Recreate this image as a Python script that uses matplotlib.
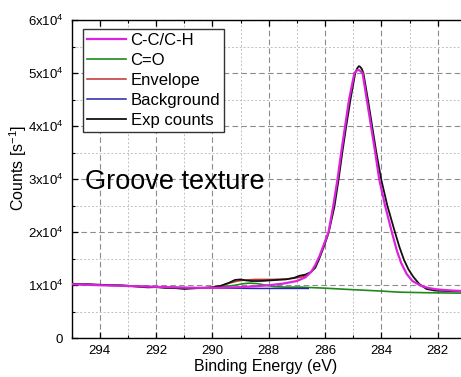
import matplotlib
matplotlib.use("Agg")
import matplotlib.pyplot as plt
from matplotlib.ticker import MultipleLocator, FuncFormatter

plt.rcParams["font.family"] = ["Liberation Sans", "DejaVu Sans"]
plt.rcParams["mathtext.fontset"] = "custom"
plt.rcParams["mathtext.rm"] = "Liberation Sans"
plt.rcParams["mathtext.default"] = "regular"

# C-C/C-H component (with background), counts in 1e4
cc_energy = [295.0, 294.0, 293.0, 292.0, 291.0, 290.0, 289.5, 289.0, 288.5, 288.0,
             287.5, 287.0, 286.7, 286.5, 286.35, 286.2, 286.05, 285.88, 285.71, 285.56,
             285.43, 285.29, 285.15, 284.96, 284.89, 284.82, 284.75, 284.67, 284.52, 284.37,
             284.22, 284.08, 283.87, 283.63, 283.45, 283.3, 283.1, 282.9, 282.6, 282.3,
             282.0, 281.5, 281.0]
cc_counts = [1.02, 1.00, 0.985, 0.97, 0.955, 0.95, 0.955, 0.965, 0.98, 1.00,
             1.03, 1.08, 1.15, 1.25, 1.38, 1.55, 1.76, 2.00, 2.50, 3.00,
             3.50, 4.00, 4.50, 5.00, 5.04, 5.06, 5.04, 5.00, 4.50, 4.00,
             3.50, 3.00, 2.50, 2.00, 1.65, 1.42, 1.21, 1.08, 0.99, 0.945,
             0.92, 0.90, 0.89]

# C=O component (with background)
co_energy = [295.0, 294.0, 293.0, 292.0, 291.0, 290.5, 290.0, 289.6, 289.2, 288.9,
             288.66, 288.4, 288.1, 287.8, 287.4, 286.9, 286.0, 285.14, 284.0, 283.37,
             282.5, 281.0]
co_counts = [1.02, 1.005, 0.99, 0.97, 0.955, 0.95, 0.955, 0.97, 1.00, 1.03,
             1.04, 1.03, 1.00, 0.975, 0.965, 0.965, 0.945, 0.92, 0.89, 0.87,
             0.86, 0.85]

# envelope
env_energy = [290.3, 290.0, 289.7, 289.4, 289.1, 288.8, 288.5, 288.2, 287.9, 287.6,
              287.3, 287.0, 286.8, 286.6]
env_counts = [0.95, 0.96, 0.99, 1.04, 1.08, 1.10, 1.11, 1.11, 1.11, 1.115,
              1.12, 1.14, 1.16, 1.20]

# background
bg_energy = [290.3, 289.5, 288.5, 287.5, 286.6]
bg_counts = [0.95, 0.945, 0.94, 0.94, 0.94]

# experimental counts
exp_energy = [295.0, 294.7, 294.4, 294.0, 293.6, 293.3, 293.0, 292.6, 292.3, 292.0,
              291.7, 291.3, 291.0, 290.7, 290.4, 290.0, 289.7, 289.4, 289.2, 289.0,
              288.8, 288.6, 288.3, 288.0, 287.7, 287.4, 287.1, 286.9, 286.7, 286.5,
              286.35, 286.23, 286.05, 285.88, 285.67, 285.52, 285.39, 285.25, 285.1, 284.93,
              284.86, 284.8, 284.76, 284.7, 284.64, 284.48, 284.33, 284.18, 284.01, 283.79,
              283.52, 283.36, 283.2, 283.04, 282.87, 282.65, 282.4, 282.1, 281.6, 281.0]
exp_counts = [1.03, 1.02, 1.02, 1.01, 1.00, 1.00, 0.99, 0.97, 0.96, 0.965,
              0.95, 0.945, 0.93, 0.94, 0.95, 0.96, 0.99, 1.05, 1.10, 1.11,
              1.09, 1.08, 1.08, 1.09, 1.10, 1.11, 1.14, 1.18, 1.20, 1.25,
              1.33, 1.47, 1.72, 1.98, 2.48, 3.00, 3.50, 4.00, 4.50, 5.00,
              5.09, 5.13, 5.12, 5.08, 5.00, 4.50, 4.00, 3.50, 3.00, 2.50,
              2.00, 1.72, 1.48, 1.30, 1.16, 1.02, 0.93, 0.90, 0.89, 0.885]


def scale(vals):
    return [v * 1e4 for v in vals]


fig = plt.figure(figsize=(4.61, 3.77), dpi=100)
ax = fig.add_axes([71.7 / 461, 38.7 / 377, 394.2 / 461, 318.3 / 377])

ax.plot(co_energy, scale(co_counts), color="#1e8a1e", lw=1.2, label="C=O", zorder=3)
ax.plot(bg_energy, scale(bg_counts), color="#2525a5", lw=1.1, label="Background", zorder=4)
ax.plot(env_energy, scale(env_counts), color="#c03030", lw=1.1, label="Envelope", zorder=5)
ax.plot(exp_energy, scale(exp_counts), color="#111111", lw=1.3, label="Exp counts", zorder=6)
ax.plot(cc_energy, scale(cc_counts), color="#dd22dd", lw=1.6, label="C-C/C-H", zorder=7)

ax.set_xlim(295, 281)
ax.set_ylim(0, 6e4)
ax.xaxis.set_major_locator(MultipleLocator(2))
ax.xaxis.set_minor_locator(MultipleLocator(1))
ax.yaxis.set_major_locator(MultipleLocator(1e4))
ax.yaxis.set_minor_locator(MultipleLocator(5e3))


def yfmt(v, pos):
    if v == 0:
        return "0"
    return "%dx10$^4$" % round(v / 1e4)


ax.yaxis.set_major_formatter(FuncFormatter(yfmt))
ax.tick_params(which="both", direction="in", top=True, labelsize=9.5)
ax.tick_params(which="major", length=4, width=0.9)
ax.tick_params(which="minor", length=2.5, width=0.8)
ax.tick_params(axis="x", pad=5)
ax.tick_params(axis="y", pad=6)
ax.spines["right"].set_visible(False)
for s in ["left", "bottom", "top"]:
    ax.spines[s].set_linewidth(1.0)

ax.grid(which="major", color="#8c8c8c", lw=0.8, dashes=(5, 3))
ax.grid(which="minor", color="#c0c0c0", lw=0.7, dashes=(2, 2))
ax.set_axisbelow(True)

ax.set_xlabel("Binding Energy (eV)", fontsize=11.5)
ax.set_ylabel("Counts [s$^{-1}$]", fontsize=11.5)
ax.xaxis.set_label_coords(0.492, -0.065)
ax.yaxis.set_label_coords(-0.108, 0.535)

ax.text(0.034, 0.491, "Groove texture", transform=ax.transAxes, fontsize=19.5, va="center")

handles, labels = ax.get_legend_handles_labels()
order = [4, 0, 2, 1, 3]
leg = ax.legend([handles[i] for i in order], [labels[i] for i in order],
                loc="upper left", bbox_to_anchor=(0.0287, 0.972), borderaxespad=0,
                fontsize=12, fancybox=False, framealpha=1, edgecolor="#333333",
                handlelength=2.3, handletextpad=0.3, labelspacing=0.3, borderpad=0.25)
leg.get_frame().set_linewidth(1.0)
leg.set_zorder(10)

fig.savefig("out.png", dpi=100)
